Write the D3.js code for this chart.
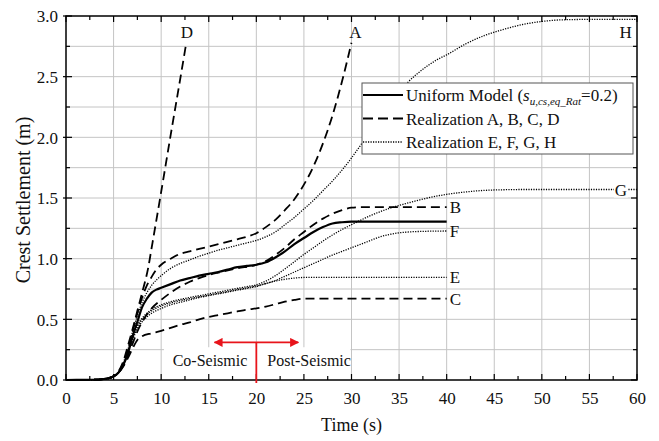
<!DOCTYPE html>
<html><head><meta charset="utf-8">
<script src="https://cdn.jsdelivr.net/npm/d3@7"></script>
<style>
body{margin:0;background:#fff;}
svg{display:block;font-family:"Liberation Serif","Times New Roman",serif;}
</style></head>
<body><svg id="c" width="659" height="441"></svg>
<script>
// ---- data (time s, settlement m) ----
const uniform = [[0,0],[3,0.002],[4,0.008],[4.5,0.015],[5,0.03],[5.5,0.06],[6,0.12],[6.5,0.22],[7,0.36],[7.5,0.48],[8,0.6],[8.5,0.67],[9,0.72],[9.5,0.745],[10,0.76],[11,0.79],[12,0.82],[13,0.84],[14,0.86],[15,0.875],[16,0.89],[17,0.91],[18,0.93],[19,0.94],[20,0.95],[21,0.97],[22,1.01],[23,1.06],[24,1.12],[25,1.17],[26,1.22],[27,1.26],[28,1.29],[29,1.30],[30,1.305],[40,1.305]];
const realA = [[0,0],[3,0.002],[4,0.008],[4.5,0.015],[5,0.03],[5.5,0.06],[6,0.13],[6.5,0.25],[7,0.40],[7.5,0.55],[8,0.68],[8.5,0.78],[9,0.85],[9.5,0.91],[10,0.95],[11,1.0],[12,1.04],[13,1.06],[14,1.08],[16,1.12],[18,1.16],[19,1.18],[20,1.21],[21,1.26],[22,1.32],[23,1.40],[24,1.49],[25,1.61],[26,1.76],[27,1.95],[28,2.18],[29,2.46],[30,2.78]];
const realB = [[0,0],[3,0.002],[4,0.008],[4.5,0.015],[5,0.03],[5.5,0.06],[6,0.12],[6.5,0.2],[7,0.3],[7.5,0.4],[8,0.48],[8.5,0.54],[9,0.59],[10,0.66],[11,0.72],[12,0.77],[13,0.81],[14,0.84],[15,0.865],[16,0.885],[18,0.92],[20,0.95],[21,0.98],[22,1.03],[23,1.09],[24,1.16],[25,1.22],[26,1.28],[27,1.33],[28,1.37],[29,1.40],[30,1.42],[31,1.425],[40,1.425]];
const realC = [[0,0],[3,0.002],[4,0.008],[4.5,0.015],[5,0.03],[5.5,0.06],[6,0.11],[6.5,0.18],[7,0.26],[7.5,0.33],[8,0.36],[9,0.385],[10,0.405],[11,0.43],[12,0.455],[13,0.475],[14,0.5],[15,0.52],[16,0.535],[17,0.55],[18,0.565],[19,0.58],[20,0.59],[21,0.605],[22,0.625],[23,0.645],[24,0.66],[25,0.67],[40,0.67]];
const realD = [[0,0],[3,0.002],[4,0.008],[4.5,0.015],[5,0.03],[5.5,0.07],[6,0.15],[6.5,0.28],[7,0.42],[7.5,0.57],[8,0.72],[8.65,0.93],[9,1.09],[10,1.55],[11,2.02],[12,2.48],[12.6,2.76]];
const realE = [[0,0],[3,0.002],[4,0.008],[4.5,0.015],[5,0.03],[5.5,0.06],[6,0.12],[6.5,0.22],[7,0.33],[7.5,0.42],[8,0.48],[8.5,0.52],[9,0.55],[10,0.59],[11,0.62],[12,0.64],[13,0.66],[14,0.68],[15,0.695],[16,0.71],[17,0.725],[18,0.74],[19,0.755],[20,0.77],[21,0.795],[22,0.815],[23,0.83],[24,0.84],[25,0.845],[40,0.845]];
const realF = [[0,0],[3,0.002],[4,0.008],[4.5,0.015],[5,0.03],[5.5,0.06],[6,0.12],[6.5,0.22],[7,0.34],[7.5,0.44],[8,0.5],[8.5,0.54],[9,0.57],[10,0.61],[11,0.635],[12,0.655],[13,0.67],[14,0.685],[15,0.70],[16,0.715],[17,0.73],[18,0.745],[19,0.76],[20,0.775],[21,0.795],[22,0.82],[23,0.855],[24,0.89],[25,0.925],[26,0.96],[27,0.995],[28,1.03],[29,1.06],[30,1.09],[31,1.12],[32,1.15],[33,1.18],[34,1.20],[35,1.213],[36,1.22],[38,1.226],[40,1.228]];
const realG = [[0,0],[3,0.002],[4,0.008],[4.5,0.015],[5,0.03],[5.5,0.06],[6,0.12],[6.5,0.23],[7,0.35],[7.5,0.45],[8,0.51],[8.5,0.55],[9,0.58],[10,0.62],[11,0.645],[12,0.665],[13,0.68],[14,0.695],[15,0.71],[16,0.725],[17,0.74],[18,0.755],[19,0.77],[20,0.785],[21,0.815],[22,0.86],[23,0.915],[24,0.975],[25,1.035],[26,1.09],[27,1.145],[28,1.195],[29,1.24],[30,1.28],[32,1.355],[34,1.415],[36,1.46],[38,1.50],[40,1.53],[42,1.55],[44,1.563],[46,1.568],[48,1.57],[60,1.57]];
const realH = [[0,0],[3,0.002],[4,0.008],[4.5,0.015],[5,0.03],[5.5,0.065],[6,0.14],[6.5,0.25],[7,0.4],[7.5,0.53],[8,0.64],[8.5,0.72],[9,0.78],[10,0.86],[11,0.92],[12,0.96],[13,0.99],[14,1.02],[15,1.045],[16,1.07],[17,1.09],[18,1.11],[19,1.13],[20,1.15],[21,1.18],[22,1.22],[23,1.28],[24,1.34],[25,1.41],[26,1.48],[27,1.56],[28,1.64],[29,1.73],[30,1.83],[31,1.94],[32,2.05],[33,2.16],[34,2.27],[35,2.37],[36,2.46],[37,2.53],[38,2.59],[39,2.64],[40,2.68],[42,2.77],[44,2.84],[46,2.89],[48,2.93],[50,2.955],[52,2.968],[55,2.972],[60,2.972]];
const xTicks = [0,5,10,15,20,25,30,35,40,45,50,55,60];
const yTicks = [0,0.5,1.0,1.5,2.0,2.5,3.0];
const legendLabels = ["Realization A, B, C, D","Realization E, F, G, H"];
const phaseLabels = ["Co-Seismic","Post-Seismic"];
const phaseSplit = 20, phaseFrom = 15.6, phaseTo = 24.4, phaseLevel = 0.31;

// ---- drawing ----
const svg = d3.select("#c");
const L=66,R=637,T=16,B=380;
const x = d3.scaleLinear().domain([0,60]).range([L,R]);
const y = d3.scaleLinear().domain([0,3]).range([B,T]);

svg.append("rect").attr("width",659).attr("height",441).attr("fill","#fff");

// grid
const g = svg.append("g");
g.selectAll(".gx").data(d3.range(5,60,5)).enter().append("line")
 .attr("x1",d=>x(d)).attr("x2",d=>x(d)).attr("y1",T).attr("y2",B)
 .attr("stroke","#c4c4c4").attr("stroke-width",1);
g.selectAll(".gy").data(d3.range(1,12).map(i=>i*0.25)).enter().append("line")
 .attr("y1",d=>y(d)).attr("y2",d=>y(d)).attr("x1",L).attr("x2",R)
 .attr("stroke","#c4c4c4").attr("stroke-width",1);

// phase labels background
svg.append("rect").attr("x",x(10.3)).attr("y",y(0.27)).attr("width",x(29.9)-x(10.3)).attr("height",y(0.01)-y(0.27)).attr("fill","#fff");

// axes
const fmt = d3.format(".1f");
const ax = svg.append("g").attr("transform",`translate(0,${B})`)
 .call(d3.axisBottom(x).tickValues(xTicks).tickSize(0).tickPadding(12));
const ay = svg.append("g").attr("transform",`translate(${L},0)`)
 .call(d3.axisLeft(y).tickValues(yTicks).tickFormat(fmt).tickSize(0).tickPadding(8));
[ax,ay].forEach(a=>{a.attr("font-family",null); a.select(".domain").remove(); a.selectAll("text").attr("font-size",17).attr("fill","#111");});
ay.selectAll("text").attr("dy","0.35em");

// inward ticks on all four sides
const tk = svg.append("g").attr("stroke","#000").attr("stroke-width",1.2);
d3.range(0,60.1,2.5).forEach(t=>{
 const len = (t%5===0)?6:4;
 tk.append("line").attr("x1",x(t)).attr("x2",x(t)).attr("y1",B).attr("y2",B-len);
 tk.append("line").attr("x1",x(t)).attr("x2",x(t)).attr("y1",T).attr("y2",T+len);
});
d3.range(0,12.1).map(i=>i*0.25).forEach(v=>{
 const len = (Math.round(v*100)%50===0)?6:4;
 tk.append("line").attr("y1",y(v)).attr("y2",y(v)).attr("x1",L-(len===6?3:0)).attr("x2",L+len);
 tk.append("line").attr("y1",y(v)).attr("y2",y(v)).attr("x1",R).attr("x2",R-len);
});

// curves
const line = d3.line().x(d=>x(d[0])).y(d=>y(d[1])).curve(d3.curveMonotoneX);
const styles = {
 solid:{w:2.2,dash:null},
 dashed:{w:1.8,dash:"9,5"},
 dotted:{w:1.3,dash:"1.2,1.3"}
};
const series = [
 [realC,"dashed"],[realE,"dotted"],[realF,"dotted"],[realG,"dotted"],[realH,"dotted"],
 [realB,"dashed"],[realA,"dashed"],[realD,"dashed"],[uniform,"solid"]
];
series.forEach(([d,s])=>{
 svg.append("path").attr("d",line(d)).attr("fill","none").attr("stroke","#000")
  .attr("stroke-width",styles[s].w).attr("stroke-dasharray",styles[s].dash);
});

// series labels
const lab = (txt,px,py,anchor)=>svg.append("text").attr("x",px).attr("y",py).attr("text-anchor",anchor||"start")
 .attr("font-size",17).attr("fill","#111").text(txt);
const last = a=>a[a.length-1];
lab("D", x(last(realD)[0])+1, y(2.87)+6,"middle");
lab("A", x(last(realA)[0])+4, y(2.87)+6,"middle");
lab("H", x(58.8), y(2.87)+6,"middle");
lab("B", x(last(realB)[0])+3, y(last(realB)[1])+6);
lab("F", x(last(realF)[0])+3, y(last(realF)[1])+6);
lab("E", x(last(realE)[0])+3, y(last(realE)[1])+6);
lab("C", x(last(realC)[0])+3, y(last(realC)[1])+6);
svg.append("rect").attr("x",x(58.3)-7).attr("y",y(last(realG)[1])-9).attr("width",14).attr("height",17).attr("fill","#fff");
lab("G", x(58.3), y(last(realG)[1])+6,"middle");

// axes frame
svg.append("rect").attr("x",L).attr("y",T).attr("width",R-L).attr("height",B-T)
 .attr("fill","none").attr("stroke","#000").attr("stroke-width",1.5);

// red phase annotation
const red="#e8141b";
svg.append("defs").append("marker").attr("id","ah").attr("viewBox","0 0 10 10").attr("refX",9).attr("refY",5)
 .attr("markerWidth",9).attr("markerHeight",9).attr("markerUnits","userSpaceOnUse").attr("orient","auto-start-reverse")
 .append("path").attr("d","M0,0L10,5L0,10Z").attr("fill",red);
svg.append("line").attr("x1",x(phaseFrom)).attr("x2",x(phaseTo)).attr("y1",y(phaseLevel)).attr("y2",y(phaseLevel))
 .attr("stroke",red).attr("stroke-width",1.8).attr("marker-start","url(#ah)").attr("marker-end","url(#ah)");
svg.append("line").attr("x1",x(phaseSplit)).attr("x2",x(phaseSplit)).attr("y1",y(phaseLevel)).attr("y2",B+3)
 .attr("stroke",red).attr("stroke-width",1.8);
lab(phaseLabels[0], x(phaseSplit)-9, 366, "end").attr("font-size",16);
lab(phaseLabels[1], x(phaseSplit)+11, 366, "start").attr("font-size",16);

// legend
const lg = svg.append("g");
lg.append("rect").attr("x",362).attr("y",83).attr("width",271).attr("height",71).attr("fill","#fff").attr("stroke","#555").attr("stroke-width",1);
const rows=[95,118.5,142];
const lsty=["solid","dashed","dotted"];
rows.forEach((ry,i)=>{
 lg.append("line").attr("x1",363).attr("x2",403).attr("y1",ry).attr("y2",ry).attr("stroke","#000")
  .attr("stroke-width",styles[lsty[i]].w).attr("stroke-dasharray",lsty[i]==="dashed"?"10,5":styles[lsty[i]].dash);
});
const t0 = lg.append("text").attr("x",406).attr("y",rows[0]+6).attr("font-size",17).attr("fill","#111");
t0.append("tspan").text("Uniform Model (");
t0.append("tspan").attr("font-style","italic").text("s");
t0.append("tspan").attr("font-style","italic").attr("font-size",11).attr("dy",4).text("u,cs,eq_Rat");
t0.append("tspan").attr("dy",-4).text("=0.2)");
legendLabels.forEach((s,i)=>{
 lg.append("text").attr("x",406).attr("y",rows[i+1]+6).attr("font-size",17).attr("fill","#111").text(s);
});

// axis titles
svg.append("text").attr("x",(L+R)/2).attr("y",431).attr("text-anchor","middle").attr("font-size",18).attr("fill","#111").text("Time (s)");
svg.append("text").attr("transform",`translate(30,${(T+B)/2+2}) rotate(-90)`).attr("text-anchor","middle").attr("font-size",20).attr("fill","#111").text("Crest Settlement (m)");
</script></body></html>
